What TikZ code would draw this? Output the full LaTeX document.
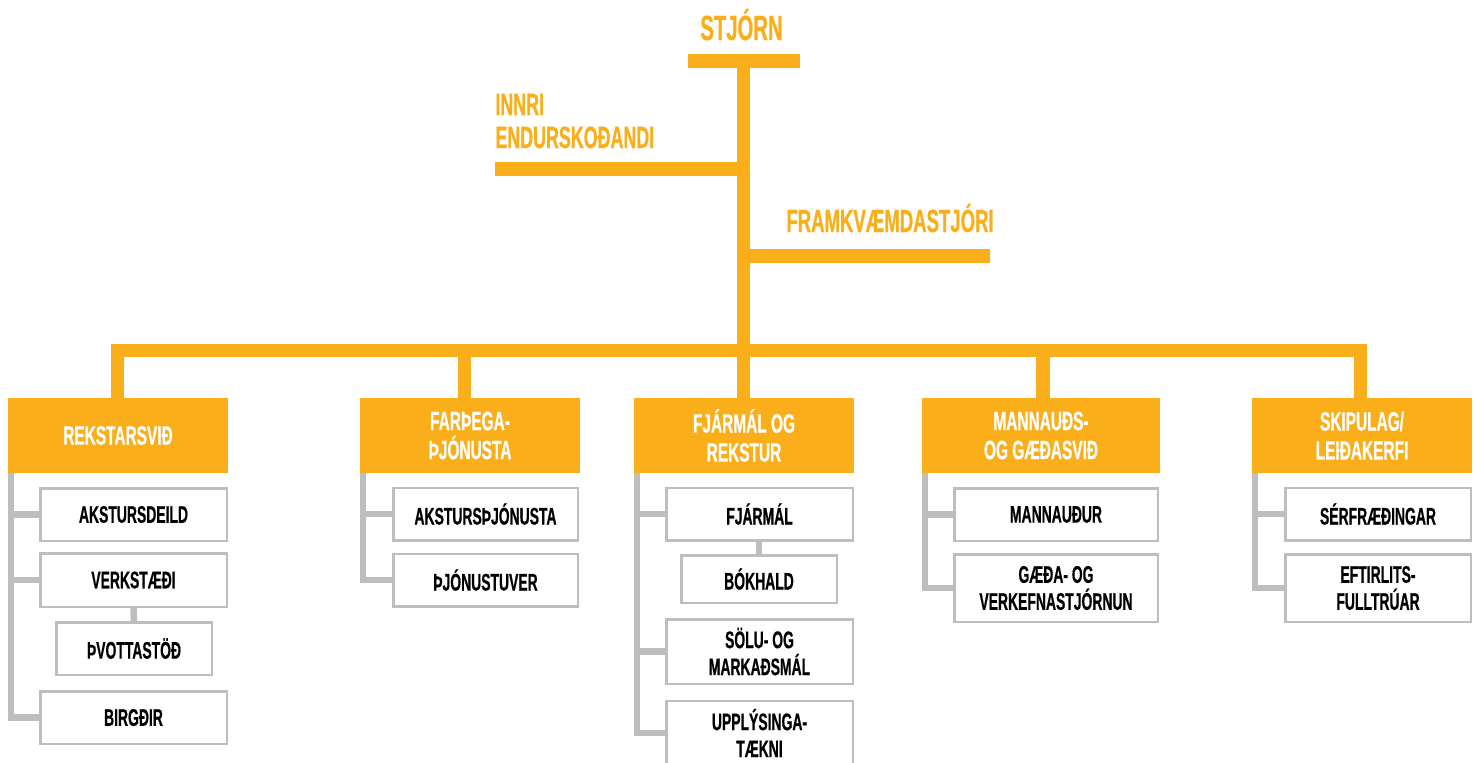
\documentclass[tikz,border=0pt]{standalone}
\usepackage{fontspec}
\newfontfamily\orgfont[FakeStretch=0.58, FakeBold=0.6]{Liberation Sans}
\usepackage{tikz}
\usetikzlibrary{calc}
\usetikzlibrary{positioning}
\definecolor{orgorange}{HTML}{F9AE1A}
\definecolor{orggrey}{HTML}{BDBEC0}
\tikzstyle{dept} = [fill=orgorange, text=white, align=center, inner sep=0pt, minimum width=110pt, minimum height=37.5pt, font=\orgfont\bfseries\fontsize{13.3}{14.5}\selectfont]
\tikzstyle{subdept} = [draw=orggrey, line width=1.25pt, fill=white, text=black, align=center, inner sep=0pt, minimum width=93.25pt, minimum height=26.25pt, font=\orgfont\bfseries\fontsize{12}{13.5}\selectfont]
\tikzstyle{toplabel} = [text=orgorange, inner sep=0pt, font=\orgfont\bfseries\fontsize{16}{16.5}\selectfont]
\tikzstyle{orgbar} = [draw=orgorange, line width=6.75pt]
\tikzstyle{greybar} = [draw=orggrey, line width=3.25pt]

\begin{document}
\begin{tikzpicture}[x=0.5pt, y=-0.5pt]
  \path[use as bounding box, clip] (0,0) rectangle (1478,762);

  % top of the chart
  \node [toplabel, anchor=base, name=stjorn, font=\orgfont\bfseries\fontsize{17.5}{20}\selectfont] at (741.5,40) {STJÓRN};
  \node [toplabel, anchor=base west, align=left, name=innri, font=\orgfont\bfseries\fontsize{15.4}{16.5}\selectfont] at (495,148) {INNRI\\ENDURSKOÐANDI};
  \node [toplabel, anchor=base west, name=framkv] at (786,232) {FRAMKVÆMDASTJÓRI};
  \coordinate (tl) at (688,61);
  \coordinate (tr) at (800,61);
  \coordinate (sp) at (743.5,61);
  \coordinate (ie) at (495,169);
  \coordinate (fe) at (990,256);
  \coordinate (b1) at (117.5,350.5);
  \coordinate (b2) at (464.5,350.5);
  \coordinate (b4) at (1043,350.5);
  \coordinate (b5) at (1360.5,350.5);

  % departments
  \node [dept, name=reks] at (118,435.5) {REKSTARSVIÐ};
  \node [dept, name=farp] at (470,435.5) {FARÞEGA-\\ÞJÓNUSTA};
  \node [dept, name=fjar] at (744,435.5) {FJÁRMÁL OG\\REKSTUR};
  \node [dept, name=mann, minimum width=119pt] at (1041,435.5) {MANNAUÐS-\\OG GÆÐASVIÐ};
  \node [dept, name=skip] at (1362,435.5) {SKIPULAG/\\LEIÐAKERFI};

  % units
  \node [subdept, name=akst] at (133.5,514.5) {AKSTURSDEILD};
  \node [subdept, name=verk, minimum height=26.75pt] at (133.5,580) {VERKSTÆÐI};
  \node [subdept, name=thvo, minimum width=77.75pt] at (134,648.5) {ÞVOTTASTÖÐ};
  \node [subdept, name=birg] at (133.5,717.5) {BIRGÐIR};

  \node [subdept, name=aksth, minimum width=92.25pt] at (485.5,514) {AKSTURSÞJÓNUSTA};
  \node [subdept, name=thjo, minimum width=92.25pt] at (485.5,580) {ÞJÓNUSTUVER};

  \node [subdept, name=fjarm] at (759.5,514) {FJÁRMÁL};
  \node [subdept, name=bokh, minimum width=77.75pt, minimum height=23.75pt] at (759,579) {BÓKHALD};
  \node [subdept, name=solu, minimum height=32.25pt] at (759.5,651.5) {SÖLU- OG\\MARKAÐSMÁL};
  \node [subdept, name=uppl, minimum height=32.25pt] at (759.5,733) {UPPLÝSINGA-\\TÆKNI};

  \node [subdept, name=mannr, minimum width=101.75pt] at (1056,514.5) {MANNAUÐUR};
  \node [subdept, name=gaeda, minimum width=101.75pt, minimum height=33.75pt] at (1056,588) {GÆÐA- OG\\VERKEFNASTJÓRNUN};

  \node [subdept, name=serf, minimum width=92.75pt] at (1378,514) {SÉRFRÆÐINGAR};
  \node [subdept, name=eftir, minimum width=92.75pt, minimum height=33.75pt] at (1378,588) {EFTIRLITS-\\FULLTRÚAR};

  % orange lines
  \draw [orgbar] (tl) -- (tr);
  \draw [orgbar] (sp) -- (sp |- fjar.north);
  \draw [orgbar] (ie) -- (ie -| sp);
  \draw [orgbar] (fe) -- (fe -| sp);
  \draw [orgbar] (b1 |- reks.north) -- (b1) -- (b5) -- (b5 |- skip.north);
  \draw [orgbar] (b2) -- (b2 |- farp.north);
  \draw [orgbar] (b4) -- (b4 |- mann.north);

  % grey lines
  \coordinate (g1) at ($(reks.south west)+(3.5,0)$);
  \coordinate (g2) at ($(farp.south west)+(3.5,0)$);
  \coordinate (g3) at ($(fjar.south west)+(3.5,0)$);
  \coordinate (g4) at ($(mann.south west)+(3.5,0)$);
  \coordinate (g5) at ($(skip.south west)+(3.5,0)$);
  \draw [greybar] (g1) |- (akst.west) (g1) |- (verk.west) (g1) |- (birg.west);
  \draw [greybar] (verk.south) -- (thvo.north);
  \draw [greybar] (g2) |- (aksth.west) (g2) |- (thjo.west);
  \draw [greybar] (g3) |- (fjarm.west) (g3) |- (solu.west) (g3) |- (uppl.west);
  \draw [greybar] (fjarm.south -| bokh.north) -- (bokh.north);
  \draw [greybar] (g4) |- (mannr.west) (g4) |- (gaeda.west);
  \draw [greybar] (g5) |- (serf.west) (g5) |- (eftir.west);
\end{tikzpicture}
\end{document}
